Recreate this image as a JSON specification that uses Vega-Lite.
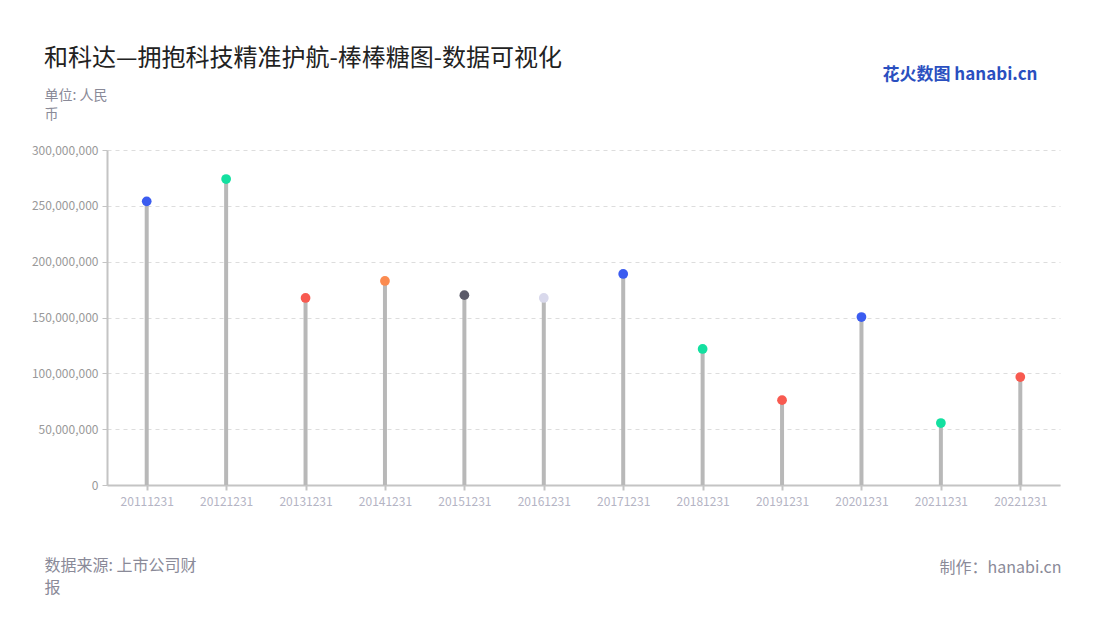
{
  "$schema": "https://vega.github.io/schema/vega-lite/v6.json",
  "autosize": {"type": "none"},
  "width": 953,
  "height": 335,
  "padding": {"left": 107, "top": 150, "right": 40, "bottom": 135},
  "background": "#ffffff",
  "config": {
    "font": "Noto Sans CJK SC",
    "view": {"stroke": null}
  },
  "title": {
    "text": "和科达—拥抱科技精准护航-棒棒糖图-数据可视化",
    "anchor": "start",
    "frame": "group",
    "dx": -63,
    "dy": 16,
    "fontSize": 24,
    "fontWeight": "normal",
    "color": "#222222",
    "font": "Noto Sans CJK SC",
    "offset": 10
  },
  "data": {
    "values": [
      {"date": "20111231", "value": 254000000},
      {"date": "20121231", "value": 274000000},
      {"date": "20131231", "value": 167500000},
      {"date": "20141231", "value": 182700000},
      {"date": "20151231", "value": 170000000},
      {"date": "20161231", "value": 167500000},
      {"date": "20171231", "value": 189000000},
      {"date": "20181231", "value": 121800000},
      {"date": "20191231", "value": 76000000},
      {"date": "20201231", "value": 150400000},
      {"date": "20211231", "value": 55500000},
      {"date": "20221231", "value": 96700000}
    ]
  },
  "layer": [
    {
      "mark": {"type": "rule", "color": "#b8b8b8", "strokeWidth": 4},
      "encoding": {
        "x": {
          "field": "date", "type": "nominal", "sort": null,
          "scale": {"type": "point", "padding": 0.5},
          "axis": {
            "orient": "bottom",
            "labelAngle": 0,
            "labelColor": "#b4b4c4",
            "labelFontSize": 12,
            "labelPadding": 6,
            "domainColor": "#c4c4c4",
            "domainWidth": 2,
            "tickColor": "#c4c4c4",
            "tickWidth": 2,
            "tickSize": 5,
            "grid": false,
            "title": ["数据来源: 上市公司财", "报"],
            "titleAnchor": "start",
            "titleAlign": "left",
            "titleBaseline": "top",
            "titleX": -63,
            "titleY": 72,
            "titleFontSize": 16,
            "titleFontWeight": "normal",
            "titleColor": "#8a8a98",
            "titleLineHeight": 22
          }
        },
        "y": {
          "field": "value", "type": "quantitative",
          "scale": {"domain": [0, 300000000]},
          "axis": {
            "orient": "left",
            "values": [0, 50000000, 100000000, 150000000, 200000000, 250000000, 300000000],
            "format": ",.0f",
            "labelColor": "#999999",
            "labelFontSize": 12,
            "labelPadding": 4,
            "domainColor": "#c4c4c4",
            "domainWidth": 2,
            "tickColor": "#c4c4c4",
            "tickSize": 5,
            "gridColor": "#dddddd",
            "gridDash": [4, 4],
            "title": ["单位: 人民", "币"],
            "titleAngle": 0,
            "titleAlign": "left",
            "titleBaseline": "top",
            "titleX": -63,
            "titleY": -62,
            "titleFontSize": 14,
            "titleFontWeight": "normal",
            "titleColor": "#8a8a98",
            "titleLineHeight": 19
          }
        },
        "y2": {"datum": 0}
      }
    },
    {
      "mark": {"type": "point", "filled": true, "opacity": 1, "size": 95},
      "encoding": {
        "x": {
          "field": "date", "type": "nominal", "sort": null,
          "axis": {
            "orient": "top",
            "labels": false, "ticks": false, "domain": false, "grid": false,
            "title": "花火数图 hanabi.cn",
            "titleAnchor": "end",
            "titleAlign": "right",
            "titleBaseline": "middle",
            "titleX": 930,
            "titleY": -76,
            "titleFontSize": 17,
            "titleFontWeight": "bold",
            "titleColor": "#2a4fc0"
          }
        },
        "y": {
          "field": "value", "type": "quantitative",
          "axis": {
            "orient": "right",
            "labels": false, "ticks": false, "domain": false, "grid": false,
            "title": "制作：hanabi.cn",
            "titleAngle": 0,
            "titleAlign": "right",
            "titleBaseline": "middle",
            "titleX": 1,
            "titleY": 417,
            "titleFontSize": 16,
            "titleFontWeight": "normal",
            "titleColor": "#8a8a98"
          }
        },
        "color": {
          "field": "date", "type": "nominal", "sort": null, "legend": null,
          "scale": {
            "domain": ["20111231","20121231","20131231","20141231","20151231","20161231","20171231","20181231","20191231","20201231","20211231","20221231"],
            "range": ["#3b5cf0","#13e0a0","#f85a50","#fb8b50","#5b5a69","#d9d9ec","#3b5cf0","#13e0a0","#f85a50","#3b5cf0","#13e0a0","#f85a50"]
          }
        }
      }
    }
  ],
  "resolve": {"axis": {"x": "independent", "y": "independent"}}
}
